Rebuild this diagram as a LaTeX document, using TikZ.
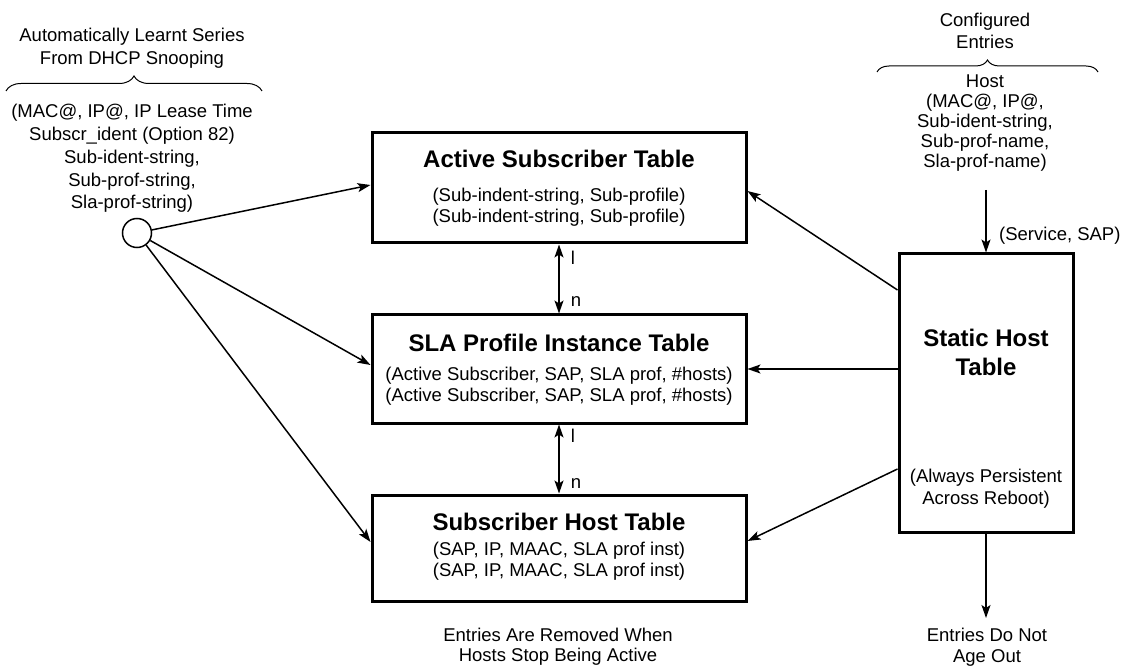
\documentclass[tikz,border=0pt]{standalone}
\usepackage{fontspec}
\setmainfont{Liberation Sans}
\usetikzlibrary{arrows.meta, decorations.pathreplacing, positioning}
\tikzset{
  tblbox/.style={draw, line width=3pt, minimum width=374pt, inner sep=0pt},
  ttl/.style={font=\fontsize{24}{29}\selectfont\bfseries, align=center, inner sep=0pt},
  txt/.style={font=\fontsize{18.5}{#1}\selectfont, align=center, inner sep=0pt},
  txt/.default=21,
  arr/.style={line width=1.5pt, -{Stealth[length=13pt, width=9pt, inset=3pt]}},
  darr/.style={line width=1.5pt,
    {Stealth[length=13pt, width=9pt, inset=3pt]}-{Stealth[length=13pt, width=9pt, inset=3pt]}},
  card/.style={txt, right=11pt},
  grp/.style={decorate, decoration={brace, amplitude=#1}, line width=1pt},
}

\begin{document}
\begin{tikzpicture}[x=1pt, y=-1pt]
\useasboundingbox (0,0) rectangle (1125,668);
% tables
\node[tblbox, minimum height=110pt] (ast) at (559,188) {};
\node[tblbox, minimum height=108pt] (sla) at (559,369) {};
\node[tblbox, minimum height=106pt] (sht) at (559,548) {};
\node[draw, line width=3pt, minimum width=174pt, minimum height=278pt] (stb) at (986,393) {};
\node[ttl] (ast-t) at (559,159) {Active Subscriber Table};
\node[txt] (ast-b) at (559,207) {(Sub-indent-string, Sub-profile)\\(Sub-indent-string, Sub-profile)};
\node[ttl] (sla-t) at (559,343) {SLA Profile Instance Table};
\node[txt] (sla-b) at (559,386.5) {(Active Subscriber, SAP, SLA prof, \#hosts)\\(Active Subscriber, SAP, SLA prof, \#hosts)};
\node[ttl] (sht-t) at (559,522) {Subscriber Host Table};
\node[txt] (sht-b) at (559,561) {(SAP, IP, MAAC, SLA prof inst)\\(SAP, IP, MAAC, SLA prof inst)};
\node[ttl] (stb-t) at (986,352) {Static Host\\Table};
\node[txt=22] (stb-b) at (986,489) {(Always Persistent\\Across Reboot)};
% learnt entries (left)
\node[txt=23] (lrn-t) at (132,48.5) {Automatically Learnt Series\\From DHCP Snooping};
\draw[grp=15pt] (6,91) -- (262,91);
\node[txt=22.75] (lrn) at (132,158.5) {(MAC@, IP@, IP Lease Time\\Subscr\_ident (Option 82)\\Sub-ident-string,\\Sub-prof-string,\\Sla-prof-string)};
\node[circle, draw, line width=1.5pt, minimum size=29pt, inner sep=0pt] (src) at (137,233) {};
% configured entries (right)
\node[txt=22] (cfg-t) at (985,31) {Configured\\Entries};
\draw[grp=12pt] (877,72) -- (1098,72);
\node[txt=20] (cfg) at (985,123) {Host\\(MAC@, IP@,\\Sub-ident-string,\\Sub-prof-name,\\Sla-prof-name)};
\coordinate (cfg-out) at (987,190);
\node[txt, anchor=west] (svc) at (999,236) {(Service, SAP)};
% notes at the bottom
\node[txt=20] (rmv) at (558,647) {Entries Are Removed When\\Hosts Stop Being Active};
\node[txt] (age) at (987,647.5) {Entries Do Not\\Age Out};
\coordinate (age-in) at (987,618);
% connectors
\draw[arr] (src) -- ([yshift=3pt]ast.west);
\draw[arr] (src) -- ([yshift=4pt]sla.west);
\draw[arr] (src) -- ([yshift=6pt]sht.west);
\draw[arr] ([yshift=103pt]stb.west) -- ([yshift=-3pt]ast.east);
\draw[arr] (stb.west |- sla.east) -- (sla.east);
\draw[arr] ([yshift=-76pt]stb.west) -- ([yshift=7pt]sht.east);
\draw[arr] (stb.north |- cfg-out) -- (stb.north);
\draw[arr] (stb.south) -- (stb.south |- age-in);
\draw[darr] (ast.south) -- (sla.north)
  node[card, pos=0.19] (ast-one) {l} node[card, pos=0.83] (sla-many) {n};
\draw[darr] (sla.south) -- (sht.north)
  node[card, pos=0.16] (sla-one) {l} node[card, pos=0.85] (sht-many) {n};
\end{tikzpicture}
\end{document}
